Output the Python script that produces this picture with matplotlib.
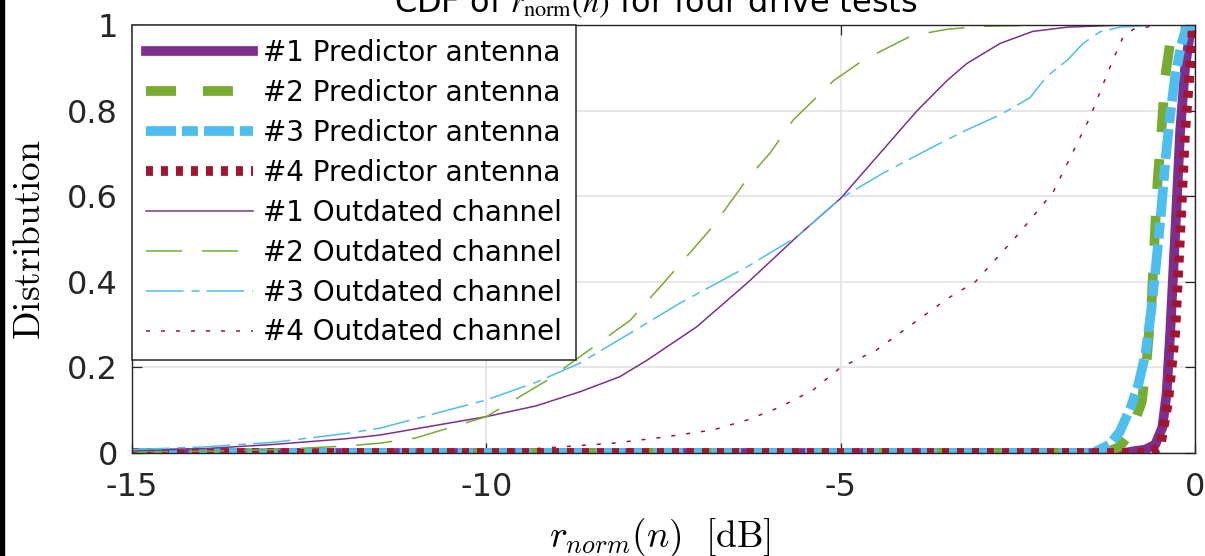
import matplotlib
matplotlib.use('Agg')
import matplotlib.pyplot as plt
from matplotlib.patches import Rectangle

plt.rcParams['font.family'] = ['DejaVu Sans']
plt.rcParams['mathtext.fontset'] = 'cm'
plt.rcParams['axes.unicode_minus'] = False
plt.rcParams['lines.scale_dashes'] = False

# predictor antenna curves (thick)
pa1_x = [-15, -1.0, -0.87, -0.7, -0.56, -0.46, -0.4, -0.35, -0.28, -0.21, -0.14, -0.08, -0.04, 0]
pa1_y = [0, 0, 0.004, 0.008, 0.02, 0.06, 0.14, 0.28, 0.51, 0.75, 0.90, 0.97, 0.995, 1.0]
pa2_x = [-15, -1.4, -1.2, -1.06, -0.9, -0.75, -0.68, -0.61, -0.57, -0.53, -0.47, -0.42, -0.35, -0.28, 0]
pa2_y = [0, 0, 0.005, 0.015, 0.05, 0.12, 0.22, 0.36, 0.50, 0.63, 0.76, 0.88, 0.96, 1.0, 1.0]
pa3_x = [-15, -1.5, -1.38, -1.2, -1.06, -0.9, -0.8, -0.7, -0.62, -0.55, -0.48, -0.42, -0.35, -0.28, -0.2, -0.12, 0]
pa3_y = [0, 0, 0.005, 0.02, 0.05, 0.11, 0.16, 0.23, 0.33, 0.44, 0.56, 0.68, 0.79, 0.88, 0.95, 0.995, 1.0]
pa4_x = [-15, -0.7, -0.6, -0.49, -0.38, -0.28, -0.21, -0.14, -0.07, -0.03, 0]
pa4_y = [0, 0, 0.005, 0.015, 0.12, 0.28, 0.51, 0.75, 0.90, 0.995, 1.0]

# outdated channel curves (thin)
oc1_x = [-15, -14, -13, -12, -11.5, -10, -9.3, -8.68, -8.12, -7.73, -7.03, -6.32, -5.62, -5.0, -4.5,
         -3.92, -3.5, -3.22, -2.75, -2.29, -1.8, -1.0, 0]
oc1_y = [0.005, 0.01, 0.02, 0.033, 0.042, 0.085, 0.11, 0.143, 0.178, 0.217, 0.295, 0.397, 0.505, 0.595,
         0.69, 0.80, 0.87, 0.91, 0.957, 0.985, 0.995, 1.0, 1.0]
oc2_x = [-15, -14, -13, -12, -11.5, -11, -10, -9.14, -8.68, -7.97, -7.5, -6.8, -6.32, -6.0, -5.67, -5.1,
         -4.68, -4.0, -3.5, -3.0, -2.0, -1.0, 0]
oc2_y = [0.002, 0.004, 0.008, 0.016, 0.023, 0.035, 0.085, 0.17, 0.225, 0.31, 0.397, 0.53, 0.64, 0.70,
         0.778, 0.87, 0.918, 0.975, 0.99, 0.997, 1.0, 1.0, 1.0]
oc3_x = [-15, -14, -13, -12, -11.5, -10, -9.3, -8.68, -7.97, -7.27, -6.32, -5.62, -5.0, -4.4, -3.7,
         -3.22, -2.75, -2.33, -2.09, -1.8, -1.58, -1.34, -1.06, -0.5, 0]
oc3_y = [0.008, 0.014, 0.025, 0.045, 0.058, 0.124, 0.165, 0.21, 0.28, 0.35, 0.435, 0.505, 0.595, 0.654,
         0.715, 0.755, 0.79, 0.83, 0.88, 0.918, 0.957, 0.984, 0.995, 1.0, 1.0]
oc4_x = [-15, -12, -10, -9.5, -8.96, -8.2, -7.5, -6.8, -6.32, -5.86, -5.39, -5.0, -4.5, -4.0, -3.5, -3.1,
         -2.5, -2.0, -1.48, -1.16, -1.02, -0.87, -0.5, 0]
oc4_y = [0, 0.001, 0.004, 0.008, 0.014, 0.023, 0.037, 0.054, 0.077, 0.107, 0.147, 0.2, 0.24, 0.3, 0.36,
         0.4, 0.51, 0.61, 0.785, 0.918, 0.97, 0.99, 1.0, 1.0]

labels = ['#1 Predictor antenna', '#2 Predictor antenna', '#3 Predictor antenna', '#4 Predictor antenna',
          '#1 Outdated channel', '#2 Outdated channel', '#3 Outdated channel', '#4 Outdated channel']
xticks = [-15, -10, -5, 0]
xticklabels = ['-15', '-10', '-5', '0']
yticks = [0, 0.2, 0.4, 0.6, 0.8, 1]
yticklabels = ['0', '0.2', '0.4', '0.6', '0.8', '1']

purple = '#7E2F8E'
green = '#77AC30'
blue = '#4DBEEE'
red = '#A2142F'

fig = plt.figure(figsize=(12.05, 5.56), dpi=100)
ax = fig.add_axes([132 / 1205, 103 / 556, 1063 / 1205, 428 / 556])

thick = 7.0
thin = 1.1
ax.plot(pa1_x, pa1_y, color=purple, lw=thick, label=labels[0])
ax.plot(pa2_x, pa2_y, color=green, lw=thick, dashes=(21.6, 19.4), label=labels[1])
ax.plot(pa3_x, pa3_y, color=blue, lw=thick, dashes=(21.6, 4.3, 11.5, 4.3), label=labels[2])
ax.plot(pa4_x, pa4_y, color=red, lw=thick, dashes=(5.0, 5.8), label=labels[3])
ax.plot(oc1_x, oc1_y, color=purple, lw=thin, label=labels[4])
ax.plot(oc2_x, oc2_y, color=green, lw=thin, dashes=(26, 14.4), label=labels[5])
ax.plot(oc3_x, oc3_y, color=blue, lw=thin, dashes=(27, 5.8, 5.8, 5.0), label=labels[6])
ax.plot(oc4_x, oc4_y, color=red, lw=thin, dashes=(2.9, 7.9), label=labels[7])

ax.set_xlim(-15, 0)
ax.set_ylim(0, 1)
ax.set_xticks(xticks)
ax.set_xticklabels(xticklabels)
ax.set_yticks(yticks)
ax.set_yticklabels(yticklabels)
ax.grid(True, color='#e3e3e3', lw=1.2)
ax.set_axisbelow(True)
ax.tick_params(direction='in', length=7, width=0.9, top=True, right=True, labelsize=23,
               colors='#262626')
ax.tick_params(axis='x', pad=14)
ax.tick_params(axis='y', pad=10)
for s in ax.spines.values():
    s.set_color('#262626')
    s.set_linewidth(1.0)

# axis labels placed in figure pixels
fig.text(30 / 1205, 1 - 240 / 556, r'$\mathrm{Distribution}$', fontsize=27, rotation=90,
         ha='center', va='center')
fig.text(660 / 1205, 1 - 538 / 556, r'$r_{norm}(n)\ \ \mathrm{[dB]}$', fontsize=27,
         ha='center', va='center')

leg = ax.legend(loc='upper left', bbox_to_anchor=(0, 1), borderaxespad=0, fontsize=20,
                handlelength=3.85, handletextpad=0.36, labelspacing=0.43, borderpad=0.5,
                fancybox=False, framealpha=1, edgecolor='#262626')
leg.get_frame().set_linewidth(1.1)

fig.text(656 / 1205, 1 - 12 / 556, r'CDF of $r_{\mathrm{norm}}(n)$ for four drive tests', fontsize=23,
         ha='center', va='baseline', math_fontfamily='stix')

fig.patches.append(Rectangle((0, 0), 4 / 1205, 1, transform=fig.transFigure, color='black'))

fig.savefig('out.png', dpi=100)
